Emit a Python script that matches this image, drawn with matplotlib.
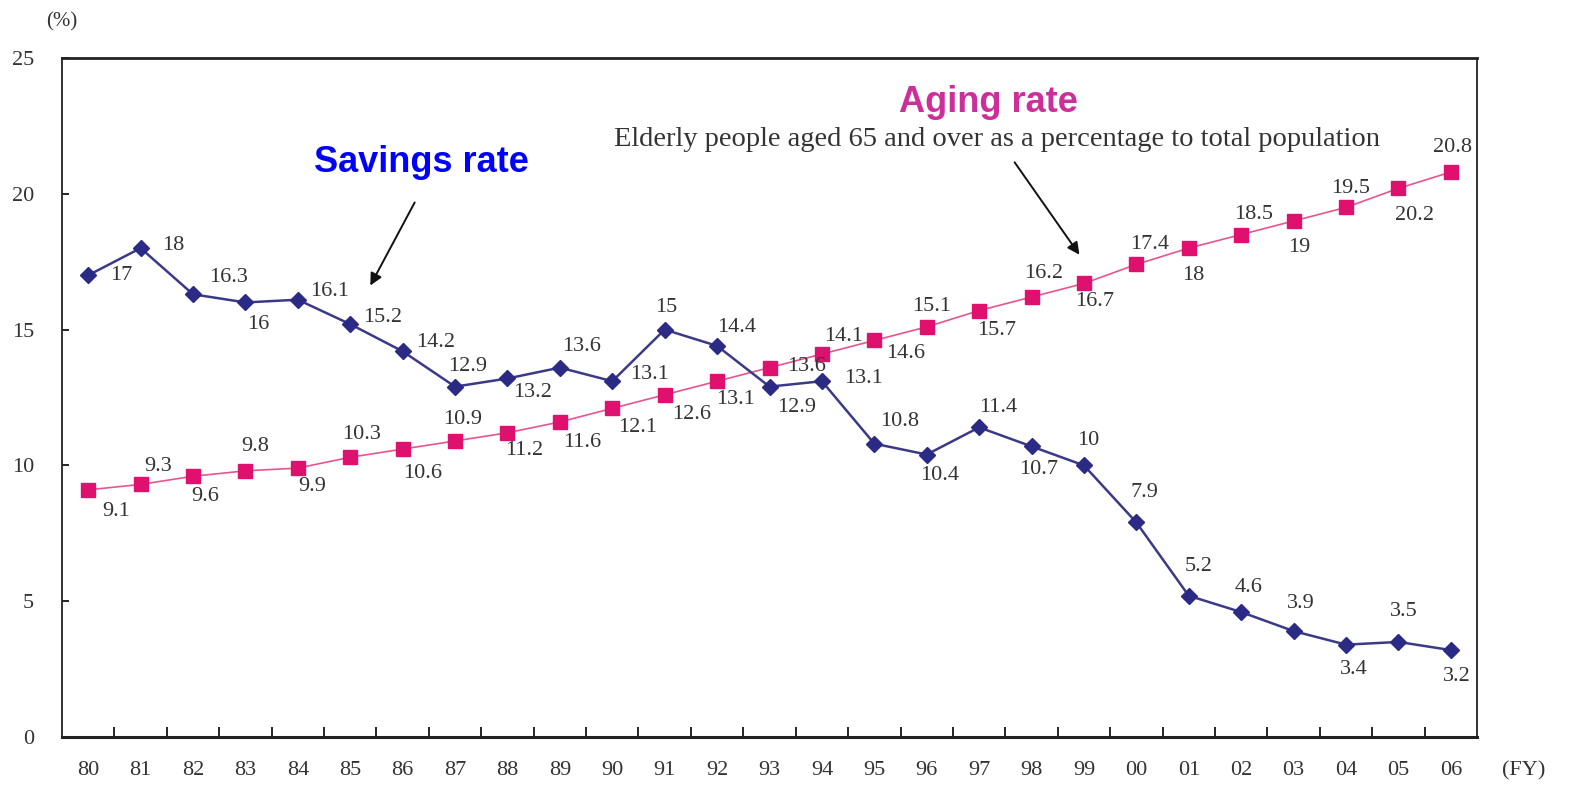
import matplotlib
matplotlib.use("Agg")
import matplotlib.pyplot as plt

# fiscal years and the two series
years = ["80", "81", "82", "83", "84", "85", "86", "87", "88", "89", "90", "91", "92",
         "93", "94", "95", "96", "97", "98", "99", "00", "01", "02", "03", "04", "05", "06"]
savings_rate = [17, 18, 16.3, 16, 16.1, 15.2, 14.2, 12.9, 13.2, 13.6, 13.1, 15, 14.4,
                12.9, 13.1, 10.8, 10.4, 11.4, 10.7, 10, 7.9, 5.2, 4.6, 3.9, 3.4, 3.5, 3.2]
aging_rate = [9.1, 9.3, 9.6, 9.8, 9.9, 10.3, 10.6, 10.9, 11.2, 11.6, 12.1, 12.6, 13.1,
              13.6, 14.1, 14.6, 15.1, 15.7, 16.2, 16.7, 17.4, 18, 18.5, 19, 19.5, 20.2, 20.8]
y_ticks = [0, 5, 10, 15, 20, 25]

# label offsets in pixels (dx, dy), hand placed like the original
sav_off = [(33, 0), (33, 3), (36, 17), (13, -22), (32, 8), (32, 7), (33, 9), (13, 20),
           (25, -14), (22, 21), (37, 7), (2, 22), (20, 18), (27, -21), (42, 3), (25, 22),
           (13, -21), (19, 20), (7, -23), (4, 25), (8, 30), (10, 29), (7, 25), (7, 28),
           (8, -25), (5, 30), (6, -26)]
age_off = [(28, -22), (18, 18), (12, -20), (10, 24), (14, -18), (11, 23), (20, -24),
           (8, 21), (17, -18), (22, -21), (25, -19), (27, -20), (18, -18), (37, 1),
           (22, 18), (31, -13), (5, 20), (17, -20), (12, 24), (11, -18), (13, 20),
           (4, -27), (12, 20), (6, -27), (5, 19), (16, -27), (2, 25)]

SERIF = "Liberation Serif"
TXT = "#333333"
NAVY = "#2B2B86"
PINK = "#E0106F"


def fmt(v):
    return ("%g" % v)


fig = plt.figure(figsize=(15.74, 7.86), dpi=100)
ax = fig.add_axes([62 / 1574, 1 - 737 / 786, (1477 - 62) / 1574, (737 - 58) / 786])

x = list(range(len(years)))
ax.plot(x, aging_rate, color="#E8558E", lw=1.2, marker="s", ms=10,
        mfc=PINK, mec=PINK, zorder=3)
ax.plot(x, savings_rate, color="#3A3A88", lw=1.8, marker="D", ms=8.5,
        mfc=NAVY, mec=NAVY, zorder=4)

for xi, v, (dx, dy) in zip(x, savings_rate, sav_off):
    ax.annotate(fmt(v), (xi, v), xytext=(dx, dy), textcoords="offset pixels",
                ha="center", va="center", fontsize=16, family=SERIF, color=TXT)
for xi, v, (dx, dy) in zip(x, aging_rate, age_off):
    ax.annotate(fmt(v), (xi, v), xytext=(dx, dy), textcoords="offset pixels",
                ha="center", va="center", fontsize=16, family=SERIF, color=TXT)

ax.set_xlim(-0.5, len(years) - 0.5)
ax.set_ylim(0, 25)
ax.set_yticks(y_ticks)
ax.set_yticklabels([str(t) for t in y_ticks], family=SERIF, fontsize=16, color=TXT)
ax.tick_params(axis="y", direction="in", length=5, width=1.2, pad=20)

# ticks sit between categories, labels under the points
ax.set_xticks([i + 0.5 for i in range(len(years) - 1)])
ax.set_xticklabels([])
ax.tick_params(axis="x", direction="in", length=7, width=1.2)
for xi, lab in zip(x, years):
    ax.text(xi, -1.25, lab, transform=ax.transData, ha="center", va="center",
            fontsize=16, family=SERIF, color=TXT, clip_on=False)
ax.text(27.4, -1.25, "(FY)", ha="center", va="center", fontsize=16,
        family=SERIF, color=TXT, clip_on=False)

for s in ax.spines.values():
    s.set_linewidth(1.3)
    s.set_color("#222222")
ax.spines["bottom"].set_linewidth(2.2)
ax.spines["top"].set_linewidth(2.0)

fig.text(62 / 1574, 1 - 22 / 786, "(%)", ha="center", va="center", fontsize=15,
         family=SERIF, color=TXT)

fig.text(421 / 1574, 1 - 163 / 786, "Savings rate", ha="center", va="center",
         fontsize=26, fontweight="bold", family="Liberation Sans", color="#0000FF")
fig.text(988 / 1574, 1 - 103 / 786, "Aging rate", ha="center", va="center",
         fontsize=26, fontweight="bold", family="Liberation Sans", color="#CC2E9A")
fig.text(997 / 1574, 1 - 140 / 786,
         "Elderly people aged 65 and over as a percentage to total population",
         ha="center", va="center", fontsize=20.5, family=SERIF, color=TXT)

# arrows placed in figure pixel space
ax.annotate("", xy=(369, 786 - 288), xycoords="figure pixels",
            xytext=(416, 786 - 200), textcoords="figure pixels",
            arrowprops=dict(arrowstyle="-|>", color="#111111", lw=1.4,
                            mutation_scale=18))
ax.annotate("", xy=(1081, 786 - 257), xycoords="figure pixels",
            xytext=(1013, 786 - 160), textcoords="figure pixels",
            arrowprops=dict(arrowstyle="-|>", color="#111111", lw=1.4,
                            mutation_scale=18))

fig.savefig("out.png", dpi=100)
